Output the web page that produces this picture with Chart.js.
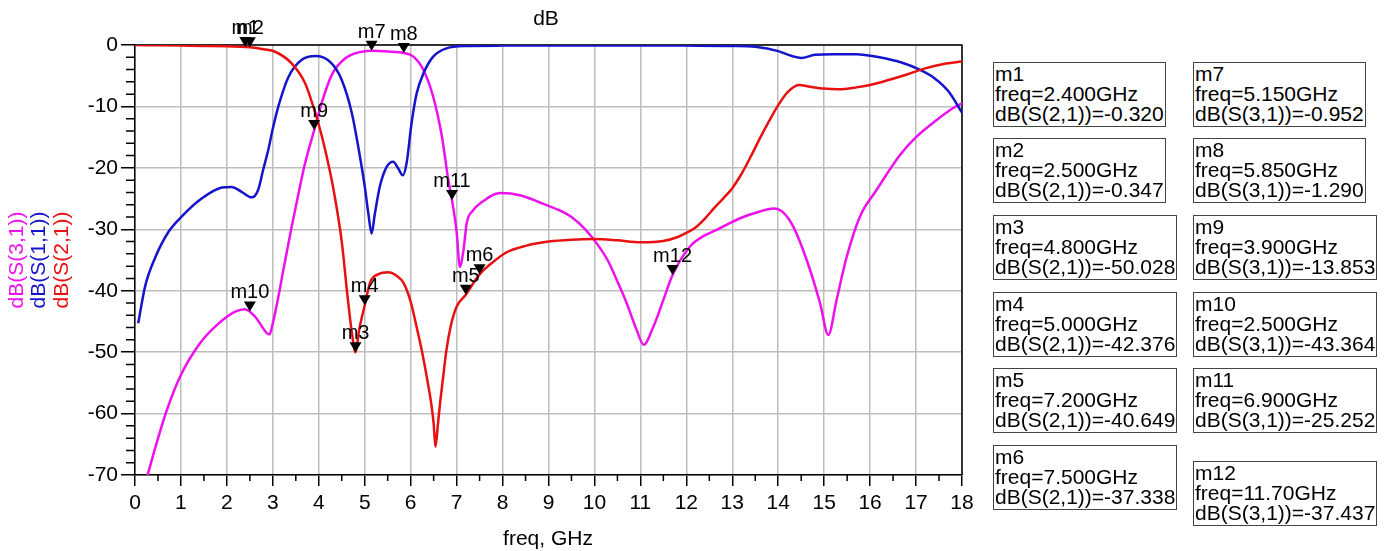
<!DOCTYPE html>
<html>
<head>
<meta charset="utf-8">
<title>dB</title>
<script src="https://cdn.jsdelivr.net/npm/chart.js@4.4.1/dist/chart.umd.min.js"></script>
<style>
  html, body { margin: 0; padding: 0; background: #fff; }
  #wrap { position: absolute; left: 0; top: 0; width: 1386px; height: 551px; }
  .mbox { position: absolute; border: 1px solid #444; font: 21px 'Liberation Sans', Arial, sans-serif;
          line-height: 20px; padding: 1px 1px 2px 1px; color: #000; white-space: pre; background: #fff; }
</style>
</head>
<body>
<div id="wrap"><canvas id="sparam"></canvas></div>
<div id="boxes"></div>
<script>
// traces (freq in GHz, level in dB)
const s21Freq = [0, 0.5, 1, 1.5, 2, 2.4, 2.5, 2.61, 2.8, 3.05, 3.41, 3.7, 3.88, 3.99, 4.14, 4.32, 4.5, 4.62, 4.72, 4.8, 4.88, 5.0, 5.12, 5.3, 5.51, 5.7, 5.85, 6.0, 6.13, 6.25, 6.35, 6.45, 6.5, 6.54, 6.59, 6.64, 6.7, 6.78, 6.88, 7.0, 7.2, 7.5, 7.8, 8.1, 8.5, 9.0, 9.5, 10.0, 10.5, 11.0, 11.5, 11.8, 12.0, 12.2, 12.4, 12.6, 12.8, 13.0, 13.2, 13.4, 13.6, 13.8, 14.0, 14.2, 14.45, 14.7, 15.0, 15.3, 15.7, 16.0, 16.4, 16.8, 17.2, 17.6, 18];
const s21dB = [0, -0.05, -0.1, -0.15, -0.22, -0.32, -0.347, -0.45, -0.7, -1.1, -3.0, -6.2, -10, -12.7, -17.1, -23.5, -32, -40.5, -46.8, -50.03, -46.3, -42.38, -38.6, -37.3, -37.0, -37.6, -38.8, -41.8, -45.9, -50, -54, -58.5, -61.6, -65.4, -62, -58.3, -54.5, -49.6, -45.5, -42.6, -40.65, -37.34, -35.3, -33.7, -32.7, -32.0, -31.7, -31.6, -31.8, -32.1, -31.9, -31.3, -30.6, -29.7, -28.3, -26.6, -25, -23.3, -21.0, -18.2, -15.2, -12.4, -9.8, -7.7, -6.5, -6.8, -7.1, -7.2, -6.9, -6.5, -5.7, -4.8, -3.8, -3.1, -2.7];

const s11Freq = [0.07, 0.22, 0.44, 0.73, 1.02, 1.45, 1.89, 2.1, 2.32, 2.54, 2.68, 2.79, 2.9, 3.0, 3.12, 3.34, 3.63, 3.95, 4.28, 4.5, 4.72, 4.86, 5.0, 5.08, 5.15, 5.22, 5.33, 5.48, 5.62, 5.73, 5.83, 5.91, 6.02, 6.13, 6.28, 6.49, 6.78, 7.22, 8, 10, 12, 13, 13.5, 14.0, 14.3, 14.5, 14.8, 15.2, 15.7, 16.2, 16.7, 17.1, 17.4, 17.7, 18];
const s11dB = [-45.3, -39.3, -34.6, -30.4, -27.9, -25.0, -23.2, -23.1, -23.9, -24.8, -23.6, -20.3, -17.1, -13.6, -10, -5.2, -2.4, -1.8, -3.0, -5.7, -11.1, -16.6, -23, -27.5, -30.7, -27.5, -23, -19.8, -19.0, -20.1, -21.2, -19.3, -12.7, -7.9, -4.6, -1.9, -0.55, -0.16, -0.1, -0.08, -0.1, -0.15, -0.3, -1.0, -1.8, -2.1, -1.6, -1.5, -1.5, -2.0, -2.9, -4.1, -5.4, -7.5, -11.0];

const s31Freq = [0.2, 0.47, 0.69, 0.98, 1.41, 1.78, 2.18, 2.39, 2.61, 2.87, 2.93, 2.98, 3.12, 3.23, 3.41, 3.55, 3.7, 3.9, 4.06, 4.28, 4.57, 5.0, 5.15, 5.5, 5.85, 6.06, 6.28, 6.49, 6.68, 6.82, 6.9, 7.0, 7.07, 7.15, 7.22, 7.36, 7.51, 7.95, 8.4, 8.8, 9.2, 9.5, 9.8, 10.05, 10.3, 10.5, 10.7, 10.92, 11.07, 11.28, 11.5, 11.7, 12.08, 12.4, 12.66, 13.17, 13.6, 13.9, 14.1, 14.33, 14.62, 14.91, 15.09, 15.27, 15.49, 15.78, 16.14, 16.65, 17.0, 17.45, 17.8, 18];
const s31dB = [-72, -64.8, -59.5, -54, -48.6, -45.6, -43.4, -43.0, -44.2, -46.9, -47.1, -45.9, -41, -36.6, -29.6, -24.5, -19.3, -13.85, -9.5, -4.9, -2.2, -1.0, -0.95, -1.05, -1.29, -1.9, -4.1, -8.4, -14.9, -22, -25.25, -30.4, -36.1, -33.4, -29, -26.9, -25.8, -24.1, -24.5, -25.6, -26.8, -28.0, -30, -32.3, -35.2, -38.5, -42.0, -46.4, -48.8, -45.9, -41.5, -37.44, -32.8, -31, -30.1, -28.2, -27.1, -26.6, -27.2, -29.6, -35, -42, -47.2, -41.5, -34.5, -27.9, -23.6, -17.9, -15, -12.2, -10.3, -9.5];

// markers (name, freq GHz, value dB, trace)
const markerNames = ['m1', 'm2', 'm3', 'm4', 'm5', 'm6', 'm7', 'm8', 'm9', 'm10', 'm11', 'm12'];
const markerFreq = [2.4, 2.5, 4.8, 5.0, 7.2, 7.5, 5.15, 5.85, 3.9, 2.5, 6.9, 11.7];
const markerDB = [-0.320, -0.347, -50.028, -42.376, -40.649, -37.338, -0.952, -1.290, -13.853, -43.364, -25.252, -37.437];
const markerTrace = ['dB(S(2,1))', 'dB(S(2,1))', 'dB(S(2,1))', 'dB(S(2,1))', 'dB(S(2,1))', 'dB(S(2,1))',
                     'dB(S(3,1))', 'dB(S(3,1))', 'dB(S(3,1))', 'dB(S(3,1))', 'dB(S(3,1))', 'dB(S(3,1))'];

const traceNames = ['dB(S(3,1))', 'dB(S(1,1))', 'dB(S(2,1))'];
const traceColors = ['#ee11ee', '#1414cc', '#e81010'];

const FONT = "'Liberation Sans', Arial, sans-serif";

function pts(fs, vs) { return fs.map((f, i) => ({ x: f, y: vs[i] })); }

const decor = {
  id: 'decor',
  beforeDatasetsDraw(chart) {
    const { ctx, chartArea: a, scales: { x, y } } = chart;
    ctx.save();
    ctx.strokeStyle = '#000';
    ctx.lineWidth = 1.5;
    ctx.beginPath();
    ctx.moveTo(a.left, a.top); ctx.lineTo(a.right, a.top); ctx.lineTo(a.right, a.bottom);
    ctx.stroke();
    // minor ticks
    ctx.beginPath();
    for (let v = -70; v <= 0; v += 2) {
      if (v % 10 === 0) continue;
      const py = y.getPixelForValue(v);
      ctx.moveTo(a.left - 9, py); ctx.lineTo(a.left, py);
    }
    for (let f = 0.5; f < 18; f += 1) {
      const px = x.getPixelForValue(f);
      ctx.moveTo(px, a.bottom); ctx.lineTo(px, a.bottom + 6);
    }
    ctx.stroke();
    ctx.restore();
  },
  afterDatasetsDraw(chart) {
    const { ctx, scales: { x, y } } = chart;
    ctx.save();
    ctx.fillStyle = '#000';
    ctx.font = '20px ' + FONT;
    ctx.textAlign = 'center';
    ctx.textBaseline = 'alphabetic';
    markerNames.forEach((n, i) => {
      const px = x.getPixelForValue(markerFreq[i]);
      const py = y.getPixelForValue(markerDB[i]);
      ctx.beginPath();
      ctx.moveTo(px - 6, py - 10); ctx.lineTo(px + 6, py - 10); ctx.lineTo(px, py);
      ctx.closePath();
      ctx.fill();
      ctx.fillText(n, px, py - 13);
    });
    ctx.restore();
  },
  afterDraw(chart) {
    const { ctx } = chart;
    ctx.save();
    ctx.font = '21px ' + FONT;
    ctx.fillStyle = '#000';
    ctx.textAlign = 'center';
    ctx.textBaseline = 'middle';
    ctx.fillText('dB', 546, 19);
    ctx.fillText('freq, GHz', 548, 539);
    const cols = [17, 39, 62];
    traceNames.forEach((t, i) => {
      ctx.save();
      ctx.translate(cols[i], 260);
      ctx.rotate(-Math.PI / 2);
      ctx.fillStyle = traceColors[i];
      ctx.fillText(t, 0, 0);
      ctx.restore();
    });
    ctx.restore();
  }
};

new Chart(document.getElementById('sparam'), {
  type: 'line',
  data: {
    datasets: [
      { label: 'dB(S(2,1))', data: pts(s21Freq, s21dB), borderColor: traceColors[2] },
      { label: 'dB(S(1,1))', data: pts(s11Freq, s11dB), borderColor: traceColors[1] },
      { label: 'dB(S(3,1))', data: pts(s31Freq, s31dB), borderColor: traceColors[0] }
    ].map(d => Object.assign(d, { borderWidth: 2.5, pointRadius: 0, fill: false, cubicInterpolationMode: 'monotone' }))
  },
  options: {
    responsive: true,
    maintainAspectRatio: false,
    animation: false,
    layout: { padding: { left: 0, top: 45, right: 424, bottom: 0 } },
    plugins: { legend: { display: false }, tooltip: { enabled: false } },
    scales: {
      x: {
        type: 'linear', min: 0, max: 18,
        afterFit: s => { s.height = 76; },
        ticks: { stepSize: 1, autoSkip: false, maxRotation: 0, padding: 5, color: '#000', font: { family: FONT, size: 21 } },
        grid: { color: '#bdbdbd', lineWidth: 1.5, tickColor: '#000', tickLength: 11, tickWidth: 1.5 },
        border: { display: true, color: '#000', width: 1.5 }
      },
      y: {
        type: 'linear', min: -70, max: 0,
        afterFit: s => { s.width = 135; },
        ticks: { stepSize: 10, autoSkip: false, padding: 3, color: '#000', font: { family: FONT, size: 21 } },
        grid: { color: '#bdbdbd', lineWidth: 1.5, tickColor: '#000', tickLength: 14, tickWidth: 1.5 },
        border: { display: true, color: '#000', width: 1.5 }
      }
    }
  },
  plugins: [decor]
});

// marker readout boxes
const boxLeft = [993, 993, 993, 993, 993, 993, 1193, 1193, 1193, 1193, 1193, 1193];
const boxTop = [62, 138, 215, 292, 368, 445, 62, 138, 215, 292, 368, 461];
const boxes = document.getElementById('boxes');
markerNames.forEach((n, i) => {
  const b = document.createElement('div');
  b.className = 'mbox';
  b.style.left = boxLeft[i] + 'px';
  b.style.top = boxTop[i] + 'px';
  b.textContent = n + '\nfreq=' + markerFreq[i].toPrecision(4) + 'GHz\n' + markerTrace[i] + '=' + markerDB[i].toFixed(3);
  boxes.appendChild(b);
});
</script>
</body>
</html>
